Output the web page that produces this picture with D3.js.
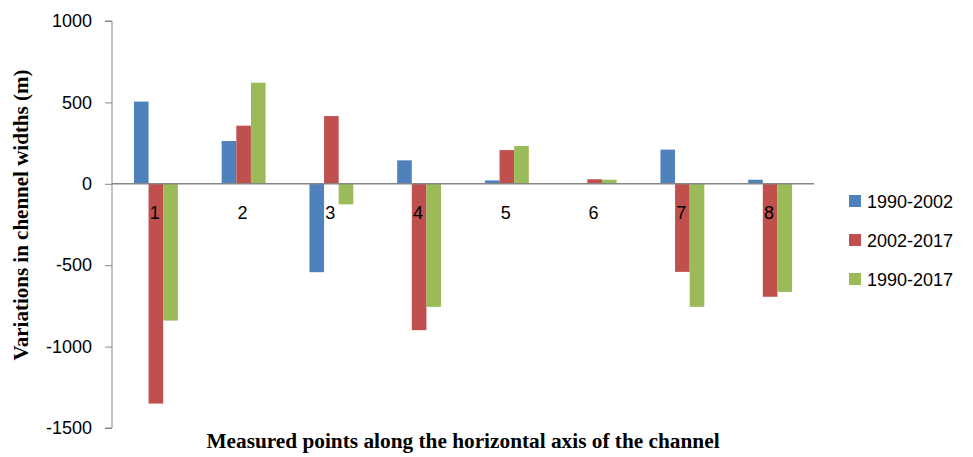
<!DOCTYPE html>
<html><head><meta charset="utf-8">
<script src="https://cdn.jsdelivr.net/npm/d3@7"></script>
<style>body{margin:0;background:#fff}svg{display:block}</style>
</head><body>
<svg id="c" width="973" height="457"></svg>
<script>
const categories = ["1","2","3","4","5","6","7","8"];
const seriesNames = ["1990-2002","2002-2017","1990-2017"];
const s1990_2002 = [505, 263, -543, 144, 21, 0, 210, 25];
const s2002_2017 = [-1350, 357, 416, -899, 207, 28, -541, -694];
const s1990_2017 = [-840, 621, -126, -756, 232, 25, -756, -664];
const colors = ["#4F81BD","#C0504D","#9BBB59"];
const yTicks = [1000, 500, 0, -500, -1000, -1500];

const series = [s1990_2002, s2002_2017, s1990_2017];
const svg = d3.select("#c");
const x = d3.scaleBand().domain(categories).range([112, 814]).paddingInner(0).paddingOuter(0);
const xs = d3.scaleBand().domain(seriesNames).range([0, x.bandwidth()]).paddingInner(0).paddingOuter(1.5);
const y = d3.scaleLinear().domain([-1500, 1000]).range([428, 21]);
const font = "'Liberation Sans', Arial, sans-serif";
const serif = "'Liberation Serif', 'Times New Roman', serif";

// y axis
const ya = svg.append("g").attr("transform", "translate(112,0)")
  .call(d3.axisLeft(y).tickValues(yTicks).tickSize(7).tickPadding(13).tickFormat(d => String(d)));
ya.select(".domain").attr("stroke", "#868686").attr("d", `M-7,${y(1000)}H0V${y(-1500)}H-7`);
ya.selectAll(".tick line").attr("stroke", "#868686");
ya.selectAll(".tick text").attr("font-family", font).attr("font-size", 18).attr("fill", "#000");

// bars
const flat = [];
series.forEach((vals, si) => vals.forEach((v, ci) => flat.push({si, ci, v})));
svg.append("g").selectAll("rect").data(flat).join("rect")
  .attr("x", d => x(categories[d.ci]) + xs(seriesNames[d.si]))
  .attr("width", xs.bandwidth())
  .attr("y", d => y(Math.max(0, d.v)))
  .attr("height", d => Math.abs(y(d.v) - y(0)))
  .attr("fill", d => colors[d.si]);

// zero line
svg.append("line").attr("x1", 112).attr("x2", 814).attr("y1", y(0)).attr("y2", y(0))
  .attr("stroke", "#868686").attr("stroke-width", 1.5);

// category labels
svg.append("g").selectAll("text").data(categories).join("text")
  .attr("x", d => x(d) + x.bandwidth()/2 - 1)
  .attr("y", y(0) + 35)
  .attr("text-anchor", "middle")
  .attr("font-family", font).attr("font-size", 18).attr("fill", "#000")
  .text(d => d);

// legend
const lg = svg.append("g");
seriesNames.forEach((n, i) => {
  const cy = 201 + i * 39;
  lg.append("rect").attr("x", 849).attr("y", cy - 6).attr("width", 12).attr("height", 12).attr("fill", colors[i]);
  lg.append("text").attr("x", 867).attr("y", cy + 6.5).attr("font-family", font).attr("font-size", 18)
    .attr("fill", "#000").text(n);
});

// axis titles
svg.append("text").attr("transform", "translate(28,215) rotate(-90)")
  .attr("text-anchor", "middle").attr("font-family", serif)
  .attr("font-weight", "bold").attr("font-size", 21).attr("fill", "#000")
  .text("Variations in chennel widths (m)");
svg.append("text").attr("x", 463).attr("y", 448)
  .attr("text-anchor", "middle").attr("font-family", serif)
  .attr("font-weight", "bold").attr("font-size", 21.3).attr("fill", "#000")
  .text("Measured points along the horizontal axis of the channel");
</script>
</body></html>
